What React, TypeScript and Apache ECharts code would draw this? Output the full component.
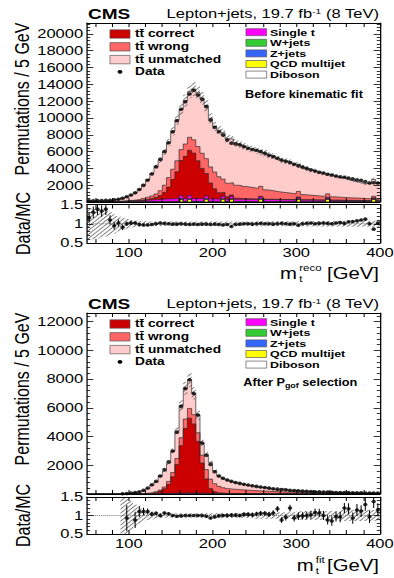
import React, { useEffect, useRef } from "react";
import * as echarts from "echarts";

// ---------------- binning / axis ticks ----------------
const BIN_LO = 50;
const BIN_W = 5;
const X_TICK_VALUES = [60, 80, 100, 120, 140, 160, 180, 200, 220, 240, 260, 280, 300, 320, 340, 360, 380, 400];
const X_LABEL_VALUES = [100, 200, 300, 400];

// ---------------- top panel: before kinematic fit ----------------
const dataBefore = [150, 160, 170, 180, 200, 220, 260, 330, 440, 620,
  830, 1100, 1480, 1980, 2600, 3330, 4200, 5080, 6000, 7060,
  8370, 9680, 11030, 11940, 12860, 13300, 12740, 12230, 11350, 9760,
  8890, 8370, 7980, 7380, 6980, 6900, 6800, 6600, 6400, 6250,
  6150, 6000, 5800, 5550, 5400, 5200, 5000, 4850, 4700, 4500,
  4300, 4150, 4000, 3850, 3700, 3550, 3450, 3300, 3200, 3100,
  3000, 2950, 2850, 2750, 2650, 2600, 2450, 2250, 2300, 2250];
const ratioBefore = [1.15, 1.30, 1.38, 1.33, 1.38, 1.10, 0.95, 1.02, 0.91, 1.00,
  1.02, 1.02, 0.98, 0.97, 0.97, 0.98, 1.00, 1.02, 1.01, 1.00,
  0.99, 0.99, 1.00, 0.99, 0.98, 0.99, 0.98, 0.99, 0.99, 0.98,
  0.99, 0.98, 0.97, 0.98, 0.93, 0.98, 0.99, 1.00, 1.00, 0.99,
  1.00, 1.01, 1.00, 1.00, 0.99, 1.00, 1.01, 1.00, 0.99, 1.00,
  0.96, 1.00, 1.01, 1.02, 1.00, 1.01, 1.02, 1.01, 1.00, 1.02,
  1.03, 1.01, 1.05, 1.06, 1.08, 1.10, 1.12, 1.00, 0.86, 1.02];
const ratioErrBefore = [0.12, 0.15, 0.15, 0.15, 0.15, 0.12, 0.10, 0.09, 0.07, 0.06,
  0.05, 0.04, 0.035, 0.03, 0.025, 0.02, 0.02, 0.015, 0.015, 0.012,
  0.012, 0.012, 0.012, 0.012, 0.012, 0.012, 0.012, 0.012, 0.012, 0.012,
  0.013, 0.013, 0.013, 0.013, 0.013, 0.013, 0.013, 0.014, 0.014, 0.014,
  0.015, 0.015, 0.015, 0.015, 0.015, 0.016, 0.016, 0.016, 0.016, 0.017,
  0.017, 0.017, 0.018, 0.018, 0.018, 0.018, 0.019, 0.019, 0.019, 0.019,
  0.02, 0.02, 0.02, 0.02, 0.021, 0.021, 0.021, 0.022, 0.022, 0.022];
const mcUncBefore = [0.42, 0.40, 0.38, 0.36, 0.33, 0.30, 0.25, 0.20, 0.16, 0.13,
  0.10, 0.085, 0.075, 0.07, 0.065, 0.06, 0.06, 0.06, 0.06, 0.06,
  0.06, 0.06, 0.06, 0.06, 0.06, 0.06, 0.06, 0.06, 0.06, 0.06,
  0.06, 0.06, 0.06, 0.06, 0.06, 0.06, 0.06, 0.06, 0.06, 0.06,
  0.065, 0.065, 0.065, 0.065, 0.065, 0.065, 0.065, 0.065, 0.065, 0.065,
  0.065, 0.065, 0.07, 0.07, 0.07, 0.07, 0.07, 0.07, 0.07, 0.07,
  0.075, 0.075, 0.075, 0.08, 0.08, 0.08, 0.08, 0.08, 0.08, 0.08];
const correctBefore = [0, 0, 0, 0, 0, 0, 5, 8, 12, 18,
  25, 35, 50, 75, 110, 170, 260, 450, 800, 1400,
  2300, 3200, 4200, 5000, 5400, 5400, 4500, 3600, 2700, 1900,
  1200, 750, 450, 280, 180, 120, 90, 75, 65, 58,
  52, 47, 43, 40, 37, 34, 32, 30, 28, 26,
  24, 22, 21, 20, 19, 18, 17, 16, 15, 14,
  13, 12, 12, 11, 11, 10, 10, 9, 9, 8];
const wrongBefore = [3, 4, 5, 6, 8, 10, 14, 20, 30, 45,
  60, 80, 120, 165, 225, 290, 400, 570, 850, 1130,
  1200, 1290, 1300, 1470, 1550, 1580, 1690, 1800, 1750, 1900,
  2000, 1900, 1600, 1620, 1450, 1550, 1530, 1460, 1390, 1330,
  1260, 1200, 1110, 1060, 980, 910, 850, 810, 750, 700,
  660, 620, 570, 540, 500, 470, 450, 420, 400, 380,
  355, 330, 305, 290, 280, 265, 240, 225, 210, 190];
const unmatchedBefore = [105, 95, 90, 100, 100, 150, 205, 235, 370, 465,
  615, 830, 1180, 1610, 2120, 2680, 3250, 3630, 3940, 4160,
  4560, 4880, 4790, 5160, 5420, 6030, 6400, 6560, 6310, 5790,
  5420, 5540, 5500, 5290, 5210, 5040, 4920, 4750, 4630, 4620,
  4530, 4080, 4350, 4170, 4150, 3980, 3800, 3750, 3710, 3520,
  3230, 3270, 3130, 2980, 2950, 2800, 2700, 2300, 2580, 2450,
  2350, 2390, 2215, 2115, 1990, 1920, 1780, 1860, 1990, 1865];
const singleTBefore = [15, 15, 20, 20, 25, 30, 35, 45, 55, 70,
  90, 110, 130, 160, 190, 220, 250, 280, 300, 320,
  340, 350, 360, 370, 370, 360, 350, 340, 330, 320,
  310, 300, 300, 290, 290, 280, 280, 270, 270, 260,
  260, 250, 250, 240, 240, 230, 230, 220, 220, 210,
  210, 200, 200, 195, 190, 185, 180, 175, 170, 165,
  160, 155, 150, 145, 140, 135, 130, 125, 120, 115];
const wjetsBefore = [5, 5, 6, 6, 7, 8, 9, 10, 12, 14,
  16, 18, 20, 23, 26, 29, 32, 35, 38, 40,
  42, 44, 45, 46, 46, 45, 44, 43, 42, 41,
  40, 40, 39, 39, 38, 38, 37, 37, 36, 36,
  35, 35, 34, 34, 33, 33, 32, 32, 31, 31,
  30, 30, 29, 29, 28, 28, 27, 27, 26, 26,
  25, 25, 24, 24, 23, 23, 22, 22, 21, 21];
const zjetsBefore = [2, 2, 2, 2, 2, 2, 3, 3, 3, 4,
  4, 5, 5, 6, 7, 7, 8, 9, 10, 10,
  11, 11, 11, 12, 12, 12, 11, 11, 11, 10,
  10, 10, 10, 10, 10, 9, 9, 9, 9, 9,
  9, 9, 9, 8, 8, 8, 8, 8, 8, 8,
  7, 7, 7, 7, 7, 7, 7, 7, 6, 6,
  6, 6, 6, 6, 6, 6, 5, 5, 5, 5];
const qcdBefore = [0, 0, 0, 0, 0, 0, 0, 0, 0, 0,
  0, 0, 0, 0, 0, 0, 0, 0, 0, 0,
  0, 0, 320, 0, 320, 0, 0, 0, 320, 0,
  0, 0, 320, 0, 320, 0, 0, 0, 0, 0,
  0, 320, 0, 0, 0, 0, 0, 0, 0, 0,
  320, 0, 0, 0, 0, 0, 0, 320, 0, 0,
  0, 0, 0, 0, 0, 0, 0, 0, 320, 0];
const dibosonBefore = [1, 1, 1, 1, 1, 1, 1, 1, 2, 2,
  2, 2, 2, 2, 2, 2, 2, 2, 2, 2,
  3, 3, 3, 3, 3, 3, 3, 3, 3, 3,
  3, 3, 3, 3, 3, 3, 3, 3, 3, 3,
  2, 2, 2, 2, 2, 2, 2, 2, 2, 2,
  2, 2, 2, 2, 2, 2, 2, 2, 2, 2,
  2, 2, 2, 2, 2, 2, 2, 2, 2, 2];

// ---------------- bottom panel: after P_gof selection ----------------
const dataAfter = [null, null, null, null, null, null, null, null, 15, 40,
  60, 100, 160, 260, 420, 640, 880, 1250, 1700, 2250,
  3000, 4300, 6100, 7350, 7950, 7000, 5500, 3550, 2700, 2050,
  1550, 1250, 1100, 980, 880, 800, 740, 680, 620, 570,
  530, 490, 450, 410, 370, 340, 310, 290, 260, 240,
  220, 200, 185, 170, 160, 150, 140, 130, 120, 110,
  105, 100, 95, 90, 85, 80, 75, 75, 70, 70];
const ratioAfter = [null, null, null, null, null, null, null, null, null, 0.93,
  null, 0.88, 1.11, 1.11, 1.11, 1.04, 1.06, 1.00, 1.07, 1.05,
  1.00, 0.98, 0.99, 1.00, 1.00, 1.00, 1.00, 1.00, 0.98, 0.93,
  0.96, 0.99, 1.00, 1.00, 1.01, 1.01, 1.00, 1.03, 1.03, 1.02,
  1.04, 1.06, 1.06, 1.03, 1.07, 1.18, 0.88, 0.95, 1.20, 0.93,
  0.98, 0.99, 1.00, 1.02, 1.08, 1.07, 1.00, 0.88, 0.85, 0.97,
  0.96, 1.20, 1.18, 0.93, 1.15, 1.12, 1.30, 0.97, 1.38, 1.15];
const ratioErrAfter = [null, null, null, null, null, null, null, null, null, 0.35,
  null, 0.22, 0.15, 0.10, 0.08, 0.06, 0.05, 0.04, 0.035, 0.03,
  0.025, 0.02, 0.018, 0.015, 0.015, 0.015, 0.017, 0.02, 0.025, 0.03,
  0.035, 0.04, 0.04, 0.045, 0.045, 0.05, 0.05, 0.055, 0.055, 0.06,
  0.06, 0.065, 0.065, 0.07, 0.07, 0.08, 0.08, 0.085, 0.09, 0.09,
  0.10, 0.10, 0.10, 0.11, 0.11, 0.11, 0.12, 0.12, 0.13, 0.13,
  0.14, 0.14, 0.15, 0.15, 0.16, 0.16, 0.17, 0.17, 0.18, 0.18];
const mcUncAfter = [null, null, null, null, null, null, null, null, 0.9, 0.5,
  0.4, 0.3, 0.22, 0.16, 0.12, 0.10, 0.08, 0.07, 0.06, 0.06,
  0.06, 0.06, 0.06, 0.06, 0.06, 0.06, 0.06, 0.06, 0.06, 0.06,
  0.07, 0.07, 0.07, 0.07, 0.07, 0.07, 0.07, 0.07, 0.07, 0.07,
  0.09, 0.09, 0.09, 0.09, 0.09, 0.09, 0.09, 0.09, 0.09, 0.09,
  0.12, 0.12, 0.12, 0.12, 0.12, 0.12, 0.12, 0.12, 0.12, 0.12,
  0.15, 0.15, 0.15, 0.15, 0.15, 0.15, 0.15, 0.15, 0.15, 0.15];
const correctAfter = [0, 0, 0, 0, 0, 0, 0, 0, 0, 1,
  2, 4, 8, 15, 28, 50, 90, 170, 330, 640,
  1150, 2000, 3300, 4500, 5200, 4800, 3600, 2100, 1000, 350,
  120, 50, 25, 15, 10, 8, 7, 6, 5, 5,
  4, 4, 3, 3, 3, 3, 2, 2, 2, 2,
  2, 2, 2, 1, 1, 1, 1, 1, 1, 1,
  1, 1, 1, 1, 1, 1, 1, 1, 1, 1];
const wrongAfter = [0, 0, 0, 0, 0, 0, 0, 0, 0, 1,
  2, 4, 7, 12, 20, 32, 50, 80, 130, 200,
  300, 420, 550, 650, 680, 650, 600, 550, 650, 650,
  560, 450, 380, 330, 300, 290, 270, 250, 235, 220,
  205, 190, 178, 166, 155, 145, 135, 126, 118, 110,
  102, 95, 88, 82, 76, 71, 66, 62, 58, 54,
  50, 47, 44, 41, 39, 37, 35, 33, 31, 29];
const unmatchedAfter = [0, 0, 0, 0, 0, 0, 0, 0, 15, 40,
  50, 100, 125, 200, 320, 520, 670, 980, 1100, 1270,
  1500, 1910, 2250, 2130, 1990, 1480, 1240, 850, 1060, 1165,
  900, 730, 665, 610, 535, 470, 440, 385, 340, 315,
  285, 250, 225, 215, 175, 125, 200, 165, 85, 135,
  110, 95, 85, 75, 62, 60, 65, 77, 74, 51,
  51, 28, 29, 49, 28, 27, 16, 37, 14, 26];
const singleTAfter = [0, 0, 0, 0, 0, 0, 0, 0, 1, 2,
  3, 4, 5, 7, 9, 12, 15, 20, 25, 32,
  40, 50, 58, 65, 70, 68, 60, 50, 42, 35,
  30, 27, 25, 23, 21, 20, 19, 18, 17, 16,
  15, 14, 14, 13, 12, 12, 11, 11, 10, 10,
  9, 9, 9, 8, 8, 8, 7, 7, 7, 6,
  6, 6, 6, 5, 5, 5, 5, 5, 4, 4];
const wjetsAfter = [0, 0, 0, 0, 0, 0, 0, 0, 0, 0,
  1, 1, 1, 1, 1, 2, 2, 2, 3, 3,
  4, 4, 5, 5, 5, 5, 4, 4, 4, 3,
  3, 3, 3, 3, 3, 2, 2, 2, 2, 2,
  2, 2, 2, 2, 2, 2, 2, 2, 2, 2,
  2, 2, 1, 1, 1, 1, 1, 1, 1, 1,
  1, 1, 1, 1, 1, 1, 1, 1, 1, 1];
const zjetsAfter = [0, 0, 0, 0, 0, 0, 0, 0, 0, 0,
  0, 0, 0, 1, 1, 1, 1, 1, 1, 1,
  1, 1, 2, 2, 2, 2, 1, 1, 1, 1,
  1, 1, 1, 1, 1, 1, 1, 1, 1, 1,
  1, 1, 1, 1, 1, 1, 1, 1, 1, 1,
  1, 1, 0, 0, 0, 0, 0, 0, 0, 0,
  0, 0, 0, 0, 0, 0, 0, 0, 0, 0];
const qcdAfter = [0, 0, 0, 0, 0, 0, 0, 0, 0, 0,
  0, 0, 0, 0, 0, 0, 0, 0, 0, 0,
  0, 0, 0, 0, 0, 0, 0, 0, 0, 0,
  0, 0, 0, 0, 0, 0, 0, 0, 0, 0,
  0, 0, 0, 0, 0, 0, 0, 0, 0, 0,
  0, 0, 0, 0, 0, 0, 0, 0, 0, 0,
  0, 0, 0, 0, 0, 0, 0, 0, 0, 0];
const dibosonAfter = [0, 0, 0, 0, 0, 0, 0, 0, 0, 0,
  0, 0, 0, 0, 0, 0, 0, 0, 0, 0,
  0, 0, 0, 0, 0, 0, 0, 0, 0, 0,
  0, 0, 0, 0, 0, 0, 0, 0, 0, 0,
  0, 0, 0, 0, 0, 0, 0, 0, 0, 0,
  0, 0, 0, 0, 0, 0, 0, 0, 0, 0,
  0, 0, 0, 0, 0, 0, 0, 0, 0, 0];

// ---------------- names / colours ----------------
const NAME_CORRECT = "t\u0074\u0304 correct";
const NAME_WRONG = "t\u0074\u0304 wrong";
const NAME_UNMATCHED = "t\u0074\u0304 unmatched";
const COL = {
  correct: "#cc0000", wrong: "#ff6666", unmatched: "#ffcccc",
  singleT: "#ff00ff", wjets: "#33cc33", zjets: "#3366ff", qcd: "#ffff00", diboson: "#ffffff",
};

// ---------------- layout (chart drawn in a 310px-wide space, stretched to 394px) ----------------
const EC_W = 310;
const SX = 394 / EC_W;
const FONT = '"Liberation Sans", Arial, Helvetica, sans-serif';
const GRID_L = 68.45;
const GRID_W = 230.5;

const hatchSvg = '<svg xmlns="http://www.w3.org/2000/svg" width="4" height="4"><path d="M-1,1 L1,-1 M0,4 L4,0 M3,5 L5,3" stroke="#5a5a5a" stroke-width="0.7"/></svg>';
const HATCH: any = {
  image: "data:image/svg+xml;charset=utf-8," + encodeURIComponent(hatchSvg),
  repeat: "repeat", imageWidth: 4, imageHeight: 4,
};

const edge = (i: number) => BIN_LO + BIN_W * i;
const center = (i: number) => BIN_LO + BIN_W * (i + 0.5);

function stepPoints(vals: number[]) {
  const pts = vals.map((v, i) => [edge(i), v]);
  pts.push([edge(vals.length), vals[vals.length - 1]]);
  return pts;
}

// stacking order, bottom -> top
function comps(s: any) {
  return [
    { name: "Diboson", color: COL.diboson, values: s.diboson },
    { name: "QCD multijet", color: COL.qcd, values: s.qcd },
    { name: "Z+jets", color: COL.zjets, values: s.zjets },
    { name: "W+jets", color: COL.wjets, values: s.wjets },
    { name: "Single t", color: COL.singleT, values: s.singleT },
    { name: NAME_CORRECT, color: COL.correct, values: s.correct },
    { name: NAME_WRONG, color: COL.wrong, values: s.wrong },
    { name: NAME_UNMATCHED, color: COL.unmatched, values: s.unmatched },
  ];
}

const PANELS = [
  {
    data: dataBefore, ratio: ratioBefore, ratioErr: ratioErrBefore, mcUnc: mcUncBefore,
    comps: comps({ diboson: dibosonBefore, qcd: qcdBefore, zjets: zjetsBefore, wjets: wjetsBefore, singleT: singleTBefore, correct: correctBefore, wrong: wrongBefore, unmatched: unmatchedBefore }),
    yMax: 21300, top: 23, height: 179, rTop: 204.5, rHeight: 38.5,
  },
  {
    data: dataAfter, ratio: ratioAfter, ratioErr: ratioErrAfter, mcUnc: mcUncAfter,
    comps: comps({ diboson: dibosonAfter, qcd: qcdAfter, zjets: zjetsAfter, wjets: wjetsAfter, singleT: singleTAfter, correct: correctAfter, wrong: wrongAfter, unmatched: unmatchedAfter }),
    yMax: 12600, top: 313, height: 181, rTop: 497, rHeight: 37,
  },
];

const frameLine = { show: true, onZero: false, lineStyle: { color: "#000", width: 1 } };
const tickLine = { color: "#000", width: 0.8 };

function xAxesFor(gridIndex: number, labels: boolean) {
  const base: any = {
    type: "value", gridIndex, min: 50, max: 400, z: 10,
    axisLine: frameLine, splitLine: { show: false },
    axisTick: { show: true, inside: true, length: 4, customValues: X_TICK_VALUES, lineStyle: tickLine },
  };
  return [
    {
      ...base, position: "bottom",
      axisLabel: labels
        ? { show: true, customValues: X_LABEL_VALUES, fontSize: 13, color: "#000", fontFamily: FONT, margin: 3 }
        : { show: false },
    },
    { ...base, position: "top", axisLabel: { show: false } },
  ];
}

function yAxesFor(gridIndex: number, min: number, max: number, interval: number, minorSplit: number, fmt: (v: number) => string) {
  const base: any = {
    type: "value", gridIndex, min, max, interval, z: 10,
    axisLine: frameLine, splitLine: { show: false },
    axisTick: { show: true, inside: true, length: 5, lineStyle: tickLine },
    minorTick: { show: true, splitNumber: minorSplit, length: 2.5, lineStyle: tickLine },
  };
  return [
    { ...base, position: "left", axisLabel: { show: true, fontSize: 13, color: "#000", fontFamily: FONT, margin: 3, formatter: fmt } },
    { ...base, position: "right", axisLabel: { show: false } },
  ];
}

const mainFmt = (v: number) => (v > 0 && v % 2000 === 0 ? String(v) : "");
const ratioFmt = (v: number) => (Math.abs(v - 1) < 1e-9 ? "1" : Math.abs(v - 0.5) < 1e-9 ? "0.5" : Math.abs(v - 1.5) < 1e-9 ? "1.5" : "");

function rectRender(params: any, api: any) {
  const a = api.coord([api.value(0), api.value(3)]);
  const b = api.coord([api.value(1), api.value(2)]);
  return { type: "rect", shape: { x: a[0], y: a[1], width: b[0] - a[0], height: b[1] - a[1] }, style: { fill: HATCH, stroke: null } };
}
function errRender(params: any, api: any) {
  const a = api.coord([api.value(0), api.value(1)]);
  const b = api.coord([api.value(0), api.value(2)]);
  return { type: "line", shape: { x1: a[0], y1: a[1], x2: b[0], y2: b[1] }, style: { stroke: "#000", lineWidth: 0.8 } };
}

function panelSeries(p: any, k: number) {
  const mainAx = k * 4;      // main x/y axis index
  const ratioAx = k * 4 + 2; // ratio x/y axis index
  const series: any[] = [];
  // cumulative sums of the stack (THStack style): each layer drawn from 0 up to its cumulative top
  const cum: number[][] = [];
  let running: number[] = p.data.map(() => 0);
  p.comps.forEach((c: any) => {
    running = running.map((r: number, i: number) => r + c.values[i]);
    cum.push(running);
  });
  for (let ci = p.comps.length - 1; ci >= 0; ci--) {
    const c = p.comps[ci];
    series.push({
      type: "line", name: c.name, xAxisIndex: mainAx, yAxisIndex: mainAx,
      step: "end", symbol: "none", showSymbol: false, silent: true, z: 2,
      data: stepPoints(cum[ci]),
      lineStyle: { width: 0.6, color: "#2a2a2a" },
      areaStyle: { color: c.color, opacity: 1 },
      itemStyle: { color: c.color },
    });
  }
  const totals = cum[cum.length - 1];
  const bandMain: any[] = [];
  const bandRatio: any[] = [];
  totals.forEach((t: number, i: number) => {
    const u = p.mcUnc[i];
    if (u == null) return;
    bandMain.push([edge(i), edge(i + 1), t * (1 - u), t * (1 + u)]);
    bandRatio.push([edge(i), edge(i + 1), Math.max(0.5, 1 - u), Math.min(1.5, 1 + u)]);
  });
  series.push({
    type: "custom", xAxisIndex: mainAx, yAxisIndex: mainAx, z: 4, silent: true, clip: true,
    encode: { x: [0, 1], y: [2, 3] }, data: bandMain, renderItem: rectRender,
  });
  series.push({
    type: "scatter", xAxisIndex: mainAx, yAxisIndex: mainAx, z: 6, silent: true,
    symbol: "circle", symbolSize: 3.5, itemStyle: { color: "#000" },
    data: p.data.map((v: any, i: number) => (v == null ? null : [center(i), v])).filter((d: any) => d),
  });
  // ratio panel
  series.push({
    type: "line", xAxisIndex: ratioAx, yAxisIndex: ratioAx, z: 2, silent: true, symbol: "none",
    data: [[50, 1], [400, 1]], lineStyle: { type: "dotted", color: "#777", width: 0.8 },
  });
  series.push({
    type: "custom", xAxisIndex: ratioAx, yAxisIndex: ratioAx, z: 3, silent: true, clip: true,
    encode: { x: [0, 1], y: [2, 3] }, data: bandRatio, renderItem: rectRender,
  });
  const errs: any[] = [];
  const pts: any[] = [];
  p.ratio.forEach((r: any, i: number) => {
    if (r == null) return;
    const e = p.ratioErr[i] || 0;
    errs.push([center(i), Math.max(0.5, r - e), Math.min(1.5, r + e)]);
    if (r >= 0.5 && r <= 1.5) pts.push([center(i), r]);
  });
  series.push({
    type: "custom", xAxisIndex: ratioAx, yAxisIndex: ratioAx, z: 5, silent: true, clip: true,
    encode: { x: 0, y: [1, 2] }, data: errs, renderItem: errRender,
  });
  series.push({
    type: "scatter", xAxisIndex: ratioAx, yAxisIndex: ratioAx, z: 6, silent: true,
    symbol: "circle", symbolSize: 3.5, itemStyle: { color: "#000" }, data: pts,
  });
  return series;
}

// legend rows (layout)
const LEFT_ROWS = [34, 46.8, 59.6, 71.8];
const RIGHT_ROWS = [32.2, 42.8, 53.4, 64.0, 74.6];
const LEFT_ITEMS = [
  { name: NAME_CORRECT, color: COL.correct },
  { name: NAME_WRONG, color: COL.wrong },
  { name: NAME_UNMATCHED, color: COL.unmatched },
  { name: "Data", dot: true },
];
const RIGHT_ITEMS = [
  { name: "Single t", color: COL.singleT },
  { name: "W+jets", color: COL.wjets },
  { name: "Z+jets", color: COL.zjets },
  { name: "QCD multijet", color: COL.qcd },
  { name: "Diboson", color: COL.diboson },
];

function txt(x: number, y: number, text: string, extra: any = {}, rot = 0) {
  return {
    type: "text", x, y, rotation: rot, silent: true, z: 20,
    style: { text, fontFamily: FONT, fontSize: 13, fill: "#000", align: "left", verticalAlign: "middle", ...extra },
  };
}

function panelGraphics(k: number) {
  const dy = k === 0 ? 0 : 290;
  const g: any[] = [];
  g.push(txt(69.2, 13.5 + dy, "CMS", { fontSize: 15, fontWeight: "bold" }));
  g.push(txt(298.2, 13.5 + dy, "Lepton+jets, 19.7 fb{sup|-1} (8 TeV)", {
    align: "right", fontSize: 13, rich: { sup: { fontSize: 8, verticalAlign: "top", fontFamily: FONT } },
  }));
  LEFT_ITEMS.forEach((it: any, j) => {
    const yc = LEFT_ROWS[j] + dy;
    if (it.dot) g.push({ type: "circle", z: 20, silent: true, shape: { cx: 94.4, cy: yc, r: 1.9 }, style: { fill: "#000" } });
    else g.push({ type: "rect", z: 20, silent: true, shape: { x: 86.5, y: yc - 4.2, width: 15.8, height: 8.4 }, style: { fill: it.color, stroke: "#555", lineWidth: 0.6 } });
    g.push(txt(106.2, yc, it.name, { fontSize: 10.8, fontWeight: "bold" }));
  });
  RIGHT_ITEMS.forEach((it: any, j) => {
    const yc = RIGHT_ROWS[j] + dy;
    g.push({ type: "rect", z: 20, silent: true, shape: { x: 193.5, y: yc - 3.5, width: 16.3, height: 7 }, style: { fill: it.color, stroke: "#555", lineWidth: 0.6 } });
    g.push(txt(212.4, yc, it.name, { fontSize: 9.8, fontWeight: "bold", lineHeight: 10 }));
  });
  if (k === 0) {
    g.push(txt(192.8, 94.3, "Before kinematic fit", { fontSize: 10, fontWeight: "bold" }));
  } else {
    g.push(txt(191.4, 382.7, "After P{sub|gof} selection", {
      fontSize: 10, fontWeight: "bold", lineHeight: 14,
      rich: { sub: { fontSize: 7, fontWeight: "bold", verticalAlign: "bottom", fontFamily: FONT, lineHeight: 14 } },
    }));
  }
  // axis titles
  g.push(txt(17.3, 99 + dy, "Permutations / 5 GeV", { fontSize: 16, align: "center" }, Math.PI / 2));
  g.push(txt(17.7, 223.5 + (k === 0 ? 0 : 292), "Data/MC", { fontSize: 16, align: "center" }, Math.PI / 2));
  if (k === 0) {
    g.push(txt(220.3, 273, "m", { fontSize: 16 }));
    g.push(txt(235.5, 267.5, "reco", { fontSize: 9 }));
    g.push(txt(235.5, 279, "t", { fontSize: 9 }));
    g.push(txt(298.2, 273, "[GeV]", { fontSize: 16, align: "right" }));
  } else {
    g.push(txt(233.4, 565, "m", { fontSize: 16 }));
    g.push(txt(248.5, 559.5, "fit", { fontSize: 9 }));
    g.push(txt(248.5, 571, "t", { fontSize: 9 }));
    g.push(txt(298.2, 565, "[GeV]", { fontSize: 16, align: "right" }));
  }
  return g;
}

function buildOption() {
  const grids: any[] = [];
  const xAxis: any[] = [];
  const yAxis: any[] = [];
  let series: any[] = [];
  let graphic: any[] = [];
  PANELS.forEach((p, k) => {
    grids.push({ left: GRID_L, width: GRID_W, top: p.top, height: p.height, outerBoundsMode: "none", containLabel: false });
    grids.push({ left: GRID_L, width: GRID_W, top: p.rTop, height: p.rHeight, outerBoundsMode: "none", containLabel: false });
    xAxis.push(...xAxesFor(k * 2, false));
    xAxis.push(...xAxesFor(k * 2 + 1, true));
    yAxis.push(...yAxesFor(k * 2, 0, p.yMax, 2000, 5, mainFmt));
    yAxis.push(...yAxesFor(k * 2 + 1, 0.5, 1.5, 0.5, 5, ratioFmt));
    series = series.concat(panelSeries(p, k));
    graphic = graphic.concat(panelGraphics(k));
  });
  return {
    animation: false,
    backgroundColor: "#fff",
    textStyle: { fontFamily: FONT },
    grid: grids,
    xAxis,
    yAxis,
    series,
    graphic,
  };
}

export default function App() {
  const ref = useRef<HTMLDivElement>(null);
  useEffect(() => {
    if (!ref.current) return;
    const chart = echarts.init(ref.current, null, { renderer: "svg" });
    chart.setOption(buildOption() as any);
    return () => chart.dispose();
  }, []);
  return (
    <div style={{ position: "fixed", left: 0, top: 0, width: 394, height: 578, overflow: "hidden", background: "#fff" }}>
      <div style={{ width: EC_W, height: 578, transform: `scaleX(${SX})`, transformOrigin: "0 0" }}>
        <div ref={ref} style={{ width: EC_W, height: 578 }} />
      </div>
    </div>
  );
}
